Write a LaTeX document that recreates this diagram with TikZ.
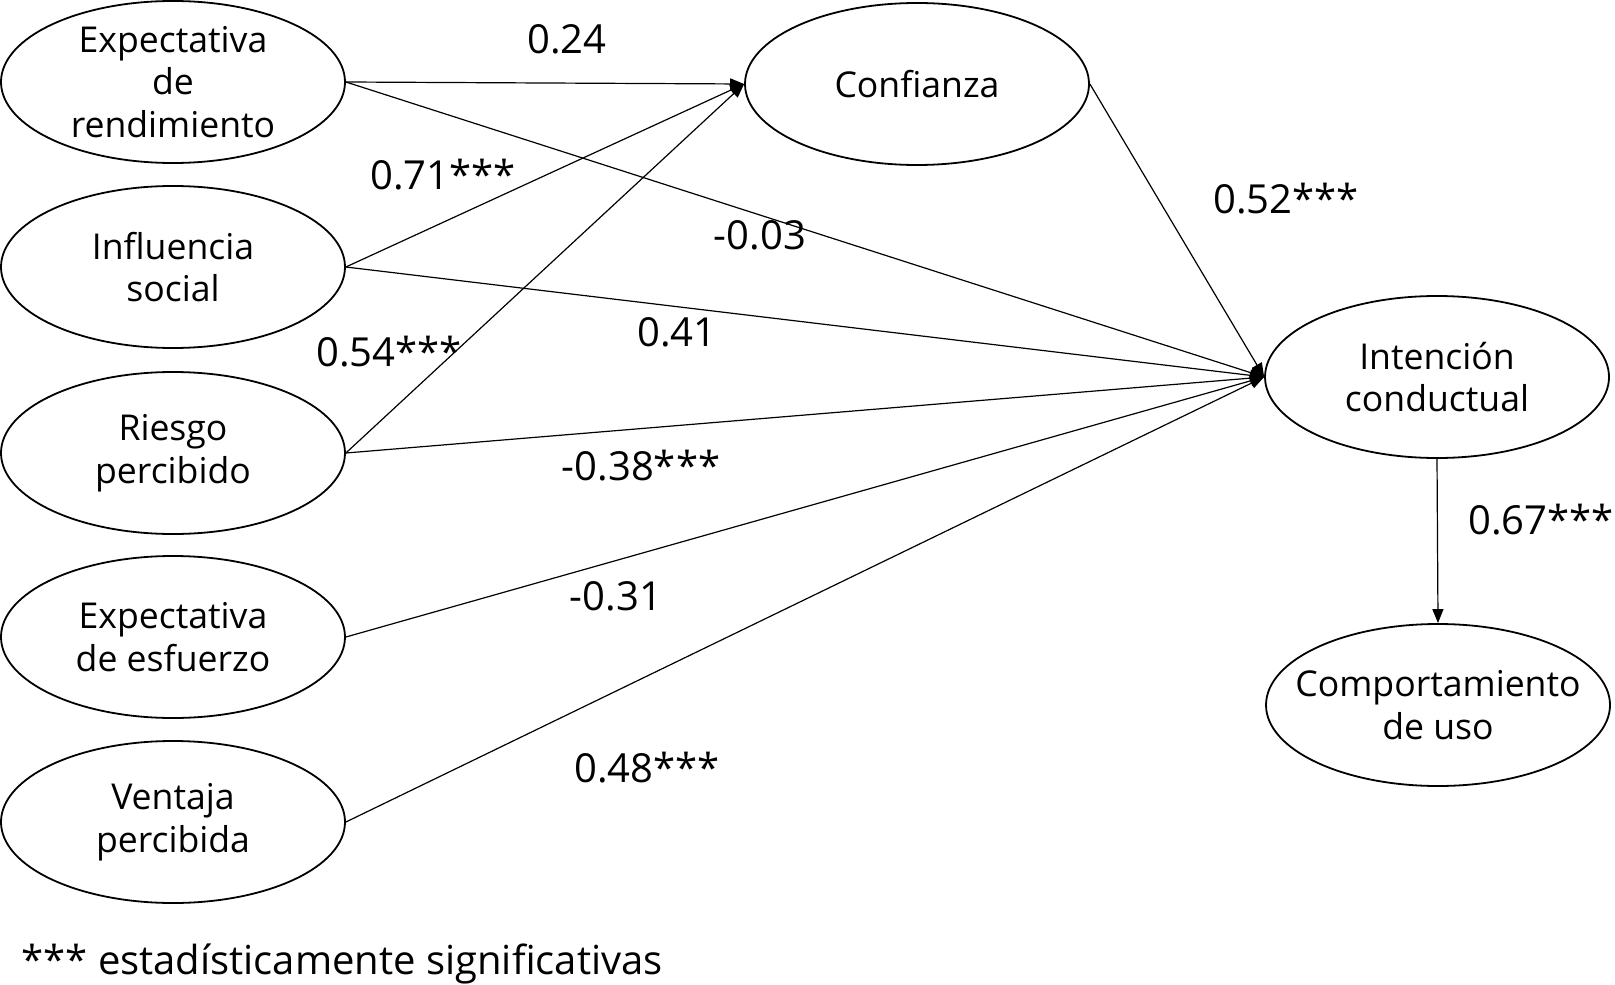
\documentclass[tikz,border=0pt]{standalone}
\usepackage{fontspec}
\setmainfont{Open Sans}
\usetikzlibrary{shapes.geometric,arrows.meta}
\begin{document}
\begin{tikzpicture}[x=0.5pt,y=-0.5pt,
  var/.style={draw,ellipse,line width=0.9pt,minimum width=172pt,minimum height=81pt,inner xsep=-11pt,inner ysep=0pt,align=center,font=\fontsize{17.8pt}{21.3pt}\selectfont},
  lbl/.style={inner sep=0pt,font=\fontsize{20pt}{24pt}\selectfont},
  path/.style={line width=0.6pt,-{Triangle[length=7pt,width=5.5pt]}}]
\useasboundingbox (0,0) rectangle (1615,984);
\node[var] (er) at (173,82) {Expectativa\\de\\rendimiento};
\node[var] (is) at (173,267) {Influencia\\social};
\node[var] (rp) at (173,453) {Riesgo\\percibido};
\node[var] (ee) at (173,637) {Expectativa\\de esfuerzo};
\node[var] (vp) at (173,822) {Ventaja\\percibida};
\node[var] (cf) at (917,84) {Confianza};
\node[var] (ic) at (1437,377) {Intención\\conductual};
\node[var] (cu) at (1438,705) {Comportamiento\\de uso};
\draw[path] (er.east) -- (cf.west);
\draw[path] (is.east) -- (cf.west);
\draw[path] (rp.east) -- (cf.west);
\draw[path] (er.east) -- (ic.west);
\draw[path] (is.east) -- (ic.west);
\draw[path] (rp.east) -- (ic.west);
\draw[path] (ee.east) -- (ic.west);
\draw[path] (vp.east) -- (ic.west);
\draw[path] (cf.east) -- (ic.west);
\draw[path] (ic.south) -- (cu.north);
\node[lbl] (l1) at (567,39) {0.24};
\node[lbl] (l2) at (443,175) {0.71***};
\node[lbl] (l3) at (760,235) {-0.03};
\node[lbl] (l4) at (1286,199) {0.52***};
\node[lbl] (l5) at (677,332) {0.41};
\node[lbl] (l6) at (389,352) {0.54***};
\node[lbl] (l7) at (641,466) {-0.38***};
\node[lbl] (l8) at (616,596) {-0.31};
\node[lbl] (l9) at (647,768) {0.48***};
\node[lbl,anchor=west] (l10) at (1468,520) {0.67***};
\node[lbl,anchor=west] (fn) at (21,964) {*** estadísticamente significativas};
\end{tikzpicture}
\end{document}
